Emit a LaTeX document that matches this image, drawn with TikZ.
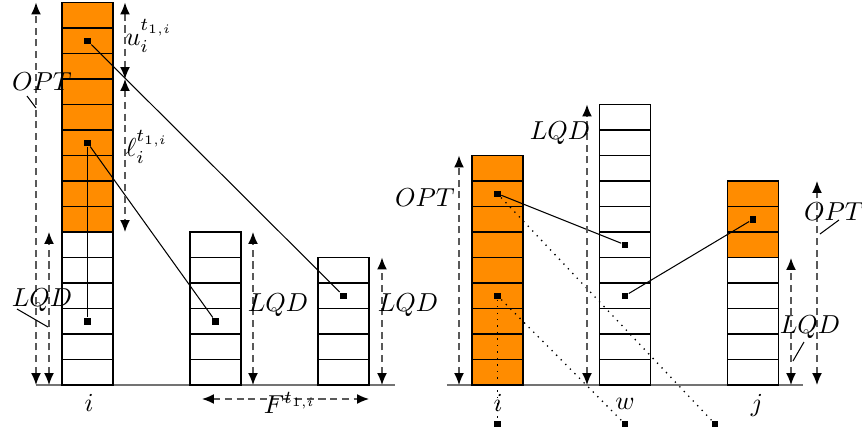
\documentclass[tikz,border=0pt]{standalone}
\usetikzlibrary{arrows.meta}
\definecolor{bar}{RGB}{255,140,0}
\begin{document}
\begin{tikzpicture}[x=0.385pt,y=-0.385pt,
  cellbox/.style={draw=black, line width=0.6pt},
  sq/.style={fill=black, inner sep=0pt, minimum size=2.5pt},
  dimarr/.style={draw=black!65, dash pattern=on 2.7pt off 1.8pt, line width=0.5pt,
     {Latex[length=4.6pt,width=3.8pt,color=black]}-{Latex[length=4.6pt,width=3.8pt,color=black]}},
  link/.style={draw=black, line width=0.4pt},
  dotlink/.style={draw=black, dotted, line width=0.5pt},
  lbl/.style={inner sep=0pt},
  pinline/.style={draw=black, line width=0.4pt},
  base/.style={draw=black!55, line width=0.6pt}]

\useasboundingbox (0,0) rectangle (862,435);

% base lines
\coordinate (bl1) at (36,385); \coordinate (bl2) at (395,385);
\coordinate (br1) at (447,385); \coordinate (br2) at (803,385);
\draw[base] (bl1) -- (bl2);
\draw[base] (br1) -- (br2);

% towers
\foreach \xl/\nc/\nor in {62/15/9, 190/6/0, 318/5/0, 472/9/9, 599.5/11/0, 727.5/8/3} {
  \foreach \k in {1,...,\nc} {
    \pgfmathsetmacro\yb{385-(\k-1)*25.5}
    \pgfmathsetmacro\yt{385-\k*25.5}
    \pgfmathtruncatemacro\isor{\k>\nc-\nor ? 1 : 0}
    \ifnum\isor=1 \def\fc{bar}\else\def\fc{white}\fi
    \draw[cellbox, fill=\fc] (\xl,\yb) rectangle (\xl+51,\yt);
  }
}

% squares
\node[sq] (a13) at (87.5,{385-13.5*25.5}) {};
\node[sq] (a9)  at (87.5,{385-9.5*25.5}) {};
\node[sq] (a2)  at (87.5,{385-2.5*25.5}) {};
\node[sq] (b2)  at (215.5,{385-2.5*25.5}) {};
\node[sq] (c3)  at (343.5,{385-3.5*25.5}) {};
\node[sq] (r7)  at (497.5,{385-7.5*25.5}) {};
\node[sq] (r3)  at (497.5,{385-3.5*25.5}) {};
\node[sq] (w5)  at (625,{385-5.5*25.5}) {};
\node[sq] (w3)  at (625,{385-3.5*25.5}) {};
\node[sq] (j6)  at (753,{385-6.5*25.5}) {};
\node[sq] (bi)  at (497.5,424) {};
\node[sq] (bw)  at (625,424) {};
\node[sq] (bj)  at (715,424) {};

% links
\draw[link] (a13) -- (c3);
\draw[link] (a9) -- (b2);
\draw[link] (a9) -- (a2);
\draw[link] (r7) -- (w5);
\draw[link] (w3) -- (j6);
\draw[dotlink] (r7) -- (bj);
\draw[dotlink] (r3) -- (bw);
\draw[dotlink] (r3) -- (bi);

% dimension arrows
\coordinate (oL1) at (36,385); \coordinate (oL2) at (36,2.5);
\coordinate (qL1) at (49,385); \coordinate (qL2) at (49,232);
\coordinate (u1) at (125,2.5); \coordinate (u2) at (125,79); \coordinate (u3) at (125,232);
\coordinate (q21) at (253,385); \coordinate (q22) at (253,232);
\coordinate (q31) at (382,385); \coordinate (q32) at (382,257.5);
\coordinate (f1) at (202,399); \coordinate (f2) at (369,399);
\coordinate (oR1) at (459,385); \coordinate (oR2) at (459,155.5);
\coordinate (qW1) at (587,385); \coordinate (qW2) at (587,104.5);
\coordinate (qJ1) at (791,385); \coordinate (qJ2) at (791,258);
\coordinate (oJ1) at (817,385); \coordinate (oJ2) at (817,181);
\draw[dimarr] (oL1) -- (oL2);
\draw[dimarr] (qL1) -- (qL2);
\draw[dimarr] (u1) -- (u2);
\draw[dimarr] (u2) -- (u3);
\draw[dimarr] (q21) -- (q22);
\draw[dimarr] (q31) -- (q32);
\draw[dimarr] (f1) -- (f2);
\draw[dimarr] (oR1) -- (oR2);
\draw[dimarr] (qW1) -- (qW2);
\draw[dimarr] (qJ1) -- (qJ2);
\draw[dimarr] (oJ1) -- (oJ2);

% labels
\node[lbl] (optL) at (42,82) {$OPT$};
\node[lbl] (lqdL) at (42,300) {$LQD$};
\node[lbl, anchor=base west] (uL) at (125,45) {$u_i^{t_{1,i}}$};
\node[lbl, anchor=base west] (lL) at (125,156) {$\ell_i^{t_{1,i}}$};
\node[lbl] (lqd2) at (278,305) {$LQD$};
\node[lbl] (lqd3) at (408,305) {$LQD$};
\node[lbl] (fL) at (290,403) {$F^{t_{1,i}}$};
\node[lbl] (iL) at (89,403) {$i$};
\node[lbl] (optR) at (425,198) {$OPT$};
\node[lbl] (lqdW) at (560,133) {$LQD$};
\node[lbl] (lqdJ) at (810,327) {$LQD$};
\node[lbl] (optJ) at (834,212) {$OPT$};
\node[lbl] (iR) at (498,403) {$i$};
\node[lbl] (wR) at (625,404) {$w$};
\node[lbl] (jR) at (757,405) {$j$};

% pin lines
\coordinate (p1a) at (27,96);  \coordinate (p1b) at (36,108);
\coordinate (p2a) at (17,309); \coordinate (p2b) at (48,327);
\coordinate (p3a) at (804,342); \coordinate (p3b) at (793,361);
\coordinate (p4a) at (839,220); \coordinate (p4b) at (820,234);
\draw[pinline] (p1a) -- (p1b);
\draw[pinline] (p2a) -- (p2b);
\draw[pinline] (p3a) -- (p3b);
\draw[pinline] (p4a) -- (p4b);
\end{tikzpicture}
\end{document}
